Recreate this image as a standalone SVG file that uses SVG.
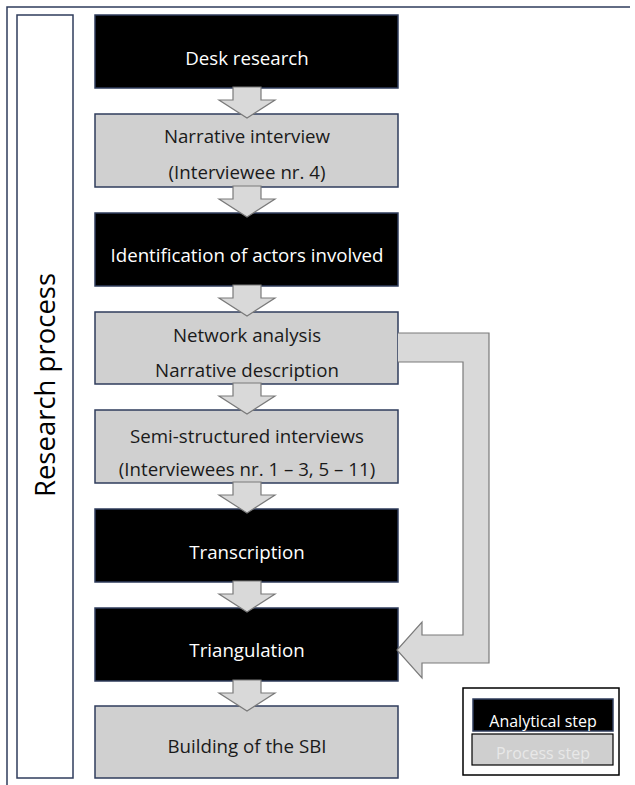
<svg xmlns="http://www.w3.org/2000/svg" xmlns:xlink="http://www.w3.org/1999/xlink" width="635" height="785" viewBox="0 0 635 785">
  <style>
    text { font-family: "Open Sans", "Noto Sans", "Liberation Sans", sans-serif; text-anchor: middle; }
    .step { stroke: #2f3d5c; stroke-width: 1.5; }
    .analytical { fill: #000000; }
    .process { fill: #d0d0d0; }
    .lbl { font-size: 18.7px; }
    .analytical-t { fill: #ffffff; }
    .process-t { fill: #1a1a1a; }
    .arrow { fill: #d9d9d9; stroke: #7a7a7a; stroke-width: 1.2; stroke-linejoin: miter; }
    .frame { fill: none; stroke: #2f3d5c; stroke-width: 1.5; }
  </style>
  <defs>
    <!-- block arrow pointing down, origin at the bottom edge of the upper box -->
    <path id="down-arrow" class="arrow" d="M233,-1 H261 V12 H275 L247,30 L219,12 H233 Z"/>
  </defs>

  <rect width="635" height="785" fill="#ffffff"/>

  <!-- outer frame -->
  <path class="frame" d="M7,785 V7 H630"/>

  <!-- side label -->
  <g id="research-process">
    <rect class="frame" x="17" y="15" width="56" height="763"/>
    <text transform="translate(55,385) rotate(-90)" font-size="27.5" fill="#000000">Research process</text>
  </g>

  <!-- steps -->
  <g id="desk-research">
    <rect class="step analytical" x="95" y="15" width="303" height="73"/>
    <text class="lbl analytical-t" x="247" y="65">Desk research</text>
  </g>
  <g id="narrative-interview">
    <rect class="step process" x="95" y="114" width="303" height="73"/>
    <text class="lbl process-t" x="247" y="143">Narrative interview</text>
    <text class="lbl process-t" x="247" y="179">(Interviewee nr. 4)</text>
  </g>
  <g id="identification">
    <rect class="step analytical" x="95" y="213" width="303" height="73"/>
    <text class="lbl analytical-t" x="247" y="262">Identification of actors involved</text>
  </g>
  <g id="network-analysis">
    <rect class="step process" x="95" y="312" width="303" height="72"/>
    <text class="lbl process-t" x="247" y="342">Network analysis</text>
    <text class="lbl process-t" x="247" y="377">Narrative description</text>
  </g>
  <g id="semi-structured">
    <rect class="step process" x="95" y="410" width="303" height="73"/>
    <text class="lbl process-t" x="247" y="443">Semi-structured interviews</text>
    <text class="lbl process-t" x="247" y="476">(Interviewees nr. 1 – 3, 5 – 11)</text>
  </g>
  <g id="transcription">
    <rect class="step analytical" x="95" y="509" width="303" height="73"/>
    <text class="lbl analytical-t" x="247" y="559">Transcription</text>
  </g>
  <g id="triangulation">
    <rect class="step analytical" x="95" y="608" width="303" height="73"/>
    <text class="lbl analytical-t" x="247" y="657">Triangulation</text>
  </g>
  <g id="building-sbi">
    <rect class="step process" x="95" y="706" width="303" height="72"/>
    <text class="lbl process-t" x="247" y="753">Building of the SBI</text>
  </g>

  <!-- connectors -->
  <g id="connectors">
    <use xlink:href="#down-arrow" transform="translate(0,88)"/>
    <use xlink:href="#down-arrow" transform="translate(0,187)"/>
    <use xlink:href="#down-arrow" transform="translate(0,286)"/>
    <use xlink:href="#down-arrow" transform="translate(0,384)"/>
    <use xlink:href="#down-arrow" transform="translate(0,483)"/>
    <use xlink:href="#down-arrow" transform="translate(0,582)"/>
    <use xlink:href="#down-arrow" transform="translate(0,681)"/>
    <!-- feedback loop from network analysis into triangulation -->
    <path class="arrow" d="M398,333 H489 V663 H422 V678 L397,650 L422,622 V635 H463 V362 H398"/>
  </g>

  <!-- legend -->
  <g id="legend">
    <rect x="463" y="688" width="156" height="87" fill="#ffffff" stroke="#000000" stroke-width="1.5"/>
    <g id="legend-analytical">
      <rect class="step analytical" x="473" y="699" width="140" height="32"/>
      <text x="543" y="727" font-size="16" fill="#ffffff">Analytical step</text>
    </g>
    <g id="legend-process">
      <rect x="472" y="734" width="141" height="31" fill="#cfcfcf" stroke="#000000" stroke-width="1.2"/>
      <text x="543" y="759" font-size="16" fill="#e8e8e8">Process step</text>
    </g>
  </g>
</svg>
